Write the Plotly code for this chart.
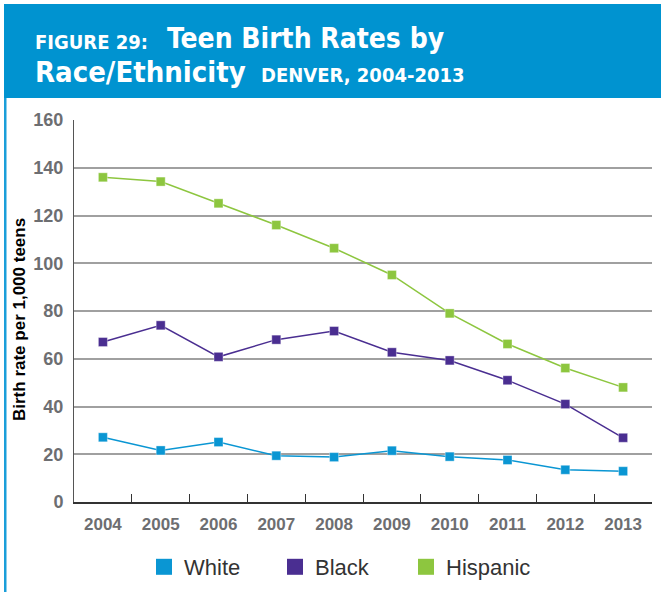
import plotly.graph_objects as go

years = ["2004", "2005", "2006", "2007", "2008", "2009", "2010", "2011", "2012", "2013"]
white = [27.1, 21.6, 25.1, 19.4, 18.8, 21.5, 19.0, 17.6, 13.5, 12.9]
black = [67.0, 74.0, 60.8, 68.0, 71.6, 62.7, 59.3, 51.0, 41.0, 26.9]
hispanic = [136.0, 134.2, 125.1, 116.0, 106.3, 95.1, 79.0, 66.2, 56.1, 48.0]
series_names = ["White", "Black", "Hispanic"]
colors = ["#0A96D3", "#4A2E91", "#8DC63F"]

W, H = 661, 594
ML, MR, MT, MB = 74, 9, 120, 92
PW, PH = W - ML - MR, H - MT - MB


def px(x):
    return (x - ML) / PW


def py(y):
    return (H - MB - y) / PH


fig = go.Figure()
for name, vals, col in zip(series_names, [white, black, hispanic], colors):
    fig.add_trace(go.Scatter(
        x=years, y=vals, mode="lines+markers", name=name, showlegend=False,
        line=dict(color=col, width=1.5),
        marker=dict(symbol="square", size=9, color=col, line=dict(width=0.6, color="rgba(255,255,255,0.6)")),
        cliponaxis=False,
    ))
for name, col in zip(series_names, colors):
    fig.add_trace(go.Scatter(
        x=[None], y=[None], mode="markers", name=name, showlegend=True,
        marker=dict(symbol="square", size=16, color=col),
    ))

title_font = "Liberation Sans Narrow, DejaVu Sans Condensed, Arial Narrow, sans-serif"
ann = [
    dict(text="FIGURE 29:", x=px(33), y=py(42), size=20),
    dict(text="Teen Birth Rates by", x=px(165), y=py(38.5), size=28),
    dict(text="Race/Ethnicity", x=px(33), y=py(72), size=29),
    dict(text="DENVER, 2004-2013", x=px(259), y=py(74.5), size=20),
]
annotations = []
for a in ann:
    annotations.append(dict(
        text=a["text"], x=a["x"], y=a["y"], xref="paper", yref="paper",
        xanchor="left", yanchor="middle", showarrow=False,
        font=dict(family=title_font, size=a["size"], color="white", weight="bold"),
    ))
annotations.append(dict(
    text="Birth rate per 1,000 teens", x=px(19), y=py(320), xref="paper", yref="paper",
    xanchor="center", yanchor="middle", showarrow=False, textangle=-90,
    font=dict(family="Liberation Sans, Arial, sans-serif", size=17, color="black", weight="bold"),
))

shapes = [
    dict(type="rect", xref="paper", yref="paper", x0=px(4), x1=px(661), y0=py(98), y1=py(4),
         fillcolor="#0093D0", line=dict(width=0), layer="below"),
    dict(type="rect", xref="paper", yref="paper", x0=px(4), x1=px(6.5), y0=py(592), y1=py(98),
         fillcolor="#1A9ED9", line=dict(width=0), layer="below"),
]

fig.update_layout(
    width=W, height=H,
    margin=dict(l=ML, r=MR, t=MT, b=MB, autoexpand=False),
    paper_bgcolor="white", plot_bgcolor="white",
    font=dict(family="Liberation Sans, Arial, sans-serif"),
    annotations=annotations, shapes=shapes,
    showlegend=True,
    legend=dict(
        orientation="h", xref="paper", yref="paper",
        x=px(144), y=py(567), xanchor="left", yanchor="middle",
        font=dict(size=22, color="#333333"),
        entrywidth=86, entrywidthmode="pixels",
        bgcolor="rgba(0,0,0,0)", itemclick=False,
    ),
    xaxis=dict(
        type="category", categoryorder="array", categoryarray=years,
        range=[-0.5, 9.5], showgrid=False,
        showline=True, linecolor="#333333", linewidth=1.5,
        ticks="inside", tickson="boundaries", ticklen=8, tickwidth=1.2, tickcolor="#333333",
        tickfont=dict(size=17, color="#6D6E71", weight="bold"),
        ticklabelstandoff=6,
    ),
    yaxis=dict(
        range=[0, 160], dtick=20, tick0=0,
        showgrid=True, gridcolor="#A0A0A0", gridwidth=1.5,
        showline=True, linecolor="#555555", linewidth=1,
        zeroline=False, ticks="",
        tickfont=dict(size=18, color="#6D6E71", weight="bold"),
        ticklabelstandoff=6,
    ),
)

fig.write_html(
    "out.html",
    config={"displayModeBar": False},
    post_script="document.body.style.margin='0';document.body.style.padding='0';",
)
